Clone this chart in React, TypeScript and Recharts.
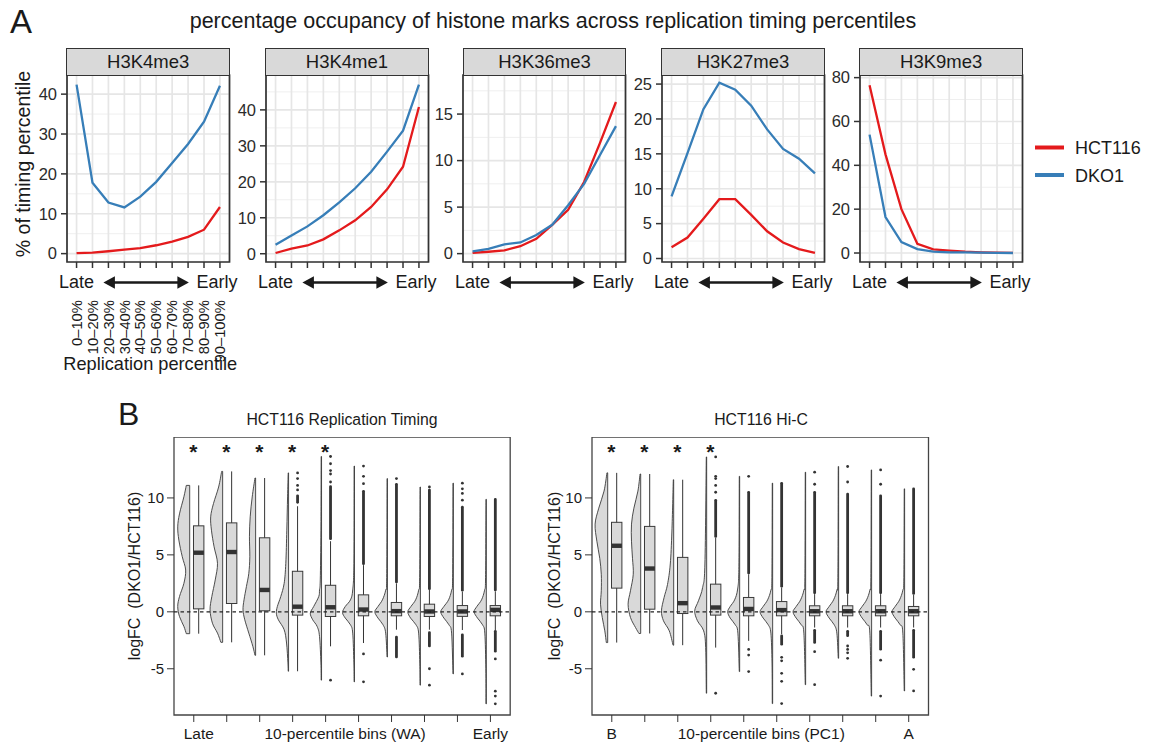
import React from 'react';
import {
  LineChart, Line, XAxis, YAxis, CartesianGrid, ReferenceArea, ReferenceLine,
  ComposedChart, Bar,
} from 'recharts';

const FONT = '"Liberation Sans", Arial, Helvetica, sans-serif';
const RED = '#e41a1c';
const BLUE = '#377eb8';
const INK = '#1a1a1a';

// ---------------- Panel A data ----------------
const percentileBins = [1, 2, 3, 4, 5, 6, 7, 8, 9, 10];
const percentileLabels = ['0–10%', '10–20%', '20–30%', '30–40%', '40–50%', '50–60%', '60–70%', '70–80%', '80–90%', '90–100%'];
const histoneMarks = ['H3K4me3', 'H3K4me1', 'H3K36me3', 'H3K27me3', 'H3K9me3'];
const seriesNames = ['HCT116', 'DKO1'];

const h3k4me3HCT116 = [0.15, 0.25, 0.6, 1.0, 1.4, 2.1, 3.0, 4.2, 6.0, 11.7];
const h3k4me3DKO1 = [42.4, 17.8, 12.8, 11.6, 14.3, 18.0, 22.7, 27.5, 33.1, 42.1];
const h3k4me1HCT116 = [0.2, 1.4, 2.3, 4.0, 6.5, 9.3, 13.0, 17.9, 24.2, 40.8];
const h3k4me1DKO1 = [2.5, 5.1, 7.6, 10.7, 14.3, 18.2, 22.8, 28.4, 34.2, 47.0];
const h3k36me3HCT116 = [0.07, 0.2, 0.35, 0.8, 1.6, 3.1, 4.7, 7.7, 11.9, 16.3];
const h3k36me3DKO1 = [0.25, 0.5, 1.0, 1.2, 2.0, 3.1, 5.2, 7.5, 10.6, 13.7];
const h3k27me3HCT116 = [1.6, 3.0, 5.7, 8.5, 8.5, 6.25, 3.9, 2.3, 1.35, 0.8];
const h3k27me3DKO1 = [8.9, 15.1, 21.4, 25.2, 24.2, 21.9, 18.5, 15.7, 14.3, 12.2];
const h3k9me3HCT116 = [76.5, 45.0, 20.0, 4.2, 1.7, 1.1, 0.6, 0.3, 0.15, 0.05];
const h3k9me3DKO1 = [54.0, 16.4, 5.0, 1.8, 0.6, 0.3, 0.3, 0.2, 0.1, 0.0];

const hctByMark = [h3k4me3HCT116, h3k4me1HCT116, h3k36me3HCT116, h3k27me3HCT116, h3k9me3HCT116];
const dkoByMark = [h3k4me3DKO1, h3k4me1DKO1, h3k36me3DKO1, h3k27me3DKO1, h3k9me3DKO1];

const facetYDomains = [[-2.1, 44.8], [-2.3, 49.7], [-0.9, 19.2], [-0.5, 26.3], [-4.1, 81.2]];
const facetYTicks = [[0, 10, 20, 30, 40], [0, 10, 20, 30, 40], [0, 5, 10, 15], [0, 5, 10, 15, 20, 25], [0, 20, 40, 60, 80]];
const facetYMinorTicks = [[5, 15, 25, 35], [5, 15, 25, 35, 45], [2.5, 7.5, 12.5, 17.5], [2.5, 7.5, 12.5, 17.5, 22.5], [10, 30, 50, 70]];

// ---------------- Panel B data ----------------
const binPositions = [1, 2, 3, 4, 5, 6, 7, 8, 9, 10];

// HCT116 Replication Timing (WA bins)
const waMin = [-1.92, -2.68, -3.82, -5.22, -6.0, -6.15, -3.97, -6.44, -5.45, -8.08];
const waMax = [11.1, 12.33, 11.75, 12.2, 13.64, 12.8, 11.7, 10.96, 11.3, 9.88];
const waQ1 = [0.26, 0.73, 0.09, -0.29, -0.41, -0.35, -0.35, -0.41, -0.4, -0.35];
const waMedian = [5.19, 5.25, 1.92, 0.45, 0.4, 0.2, 0.06, 0.03, 0.03, 0.17];
const waQ3 = [7.55, 7.81, 6.5, 3.56, 2.33, 1.49, 0.82, 0.67, 0.55, 0.55];
const waWhiskerLo = [-1.92, -2.68, -3.82, -5.22, -3.03, -2.74, -1.57, -1.57, -1.6, -1.6];
const waWhiskerHi = [11.1, 12.33, 11.75, 9.27, 6.2, 4.1, 2.5, 1.92, 1.78, 1.8];
const waDenseHi = [null, null, null, [9.5, 10.2], [6.3, 11.0], [4.1, 10.6], [2.5, 11.2], [1.92, 10.7], [1.78, 9.2], [1.8, 9.88]];
const waDenseLo = [null, null, null, null, null, null, [-3.97, -2.1], [-3.0, -1.7], [-3.9, -1.9], [-3.47, -1.6]];
const waOutliers = [[], [], [], [10.7, 11.1, 11.7, 12.2], [11.4, 12.1, 12.4, 13.0, 13.64, -6.0], [11.25, 11.9, 12.8, -3.7, -6.15], [11.7], [10.96, -5.0, -6.44], [9.8, 10.4, 10.8, 11.3, -5.45], [-4.14, -6.97, -7.4, -8.08]];
const waStarred = [true, true, true, true, true, false, false, false, false, false];
const waViolins = [
  [[11.1, 0.27], [10.1, 0.46], [8.6, 0.81], [7.46, 0.95], [6.3, 0.86], [4.84, 0.59], [3.67, 0.32], [2.5, 0.46], [1.34, 0.81], [0.47, 0.95], [-0.41, 0.81], [-1.28, 0.46], [-1.92, 0.27]],
  [[12.33, 0.08], [10.96, 0.32], [9.5, 0.73], [8.34, 0.95], [7.17, 0.89], [5.71, 0.68], [4.26, 0.41], [2.8, 0.59], [1.34, 0.86], [0.17, 1.0], [-1.0, 0.81], [-1.87, 0.41], [-2.68, 0.14]],
  [[11.75, 0.05], [10.09, 0.27], [8.34, 0.43], [6.59, 0.49], [4.84, 0.46], [3.38, 0.54], [2.22, 0.73], [1.05, 0.92], [0.17, 1.0], [-0.7, 0.86], [-1.87, 0.54], [-3.03, 0.22], [-3.82, 0.05]],
  [[12.2, 0.03], [10.09, 0.08], [7.17, 0.14], [4.26, 0.22], [2.5, 0.35], [1.34, 0.62], [0.47, 0.89], [-0.12, 0.97], [-0.7, 0.81], [-1.57, 0.35], [-2.74, 0.16], [-4.49, 0.05], [-5.22, 0.03]],
  [[13.64, 0.03], [7.17, 0.05], [2.8, 0.1], [1.92, 0.16], [1.34, 0.22], [0.47, 0.62], [-0.12, 0.89], [-0.7, 0.7], [-1.28, 0.35], [-2.16, 0.16], [-4.49, 0.05], [-6.0, 0.03]],
  [[12.8, 0.03], [4.26, 0.05], [1.92, 0.14], [1.05, 0.32], [0.47, 0.73], [-0.06, 0.95], [-0.55, 0.73], [-1.14, 0.32], [-1.87, 0.14], [-4.49, 0.05], [-6.15, 0.03]],
  [[11.7, 0.03], [3.0, 0.06], [1.9, 0.14], [1.05, 0.4], [0.47, 0.75], [0.0, 1.0], [-0.55, 0.75], [-1.14, 0.35], [-1.87, 0.14], [-3.97, 0.03]],
  [[10.96, 0.03], [3.0, 0.06], [1.9, 0.14], [1.05, 0.38], [0.47, 0.75], [0.0, 1.0], [-0.55, 0.78], [-1.14, 0.35], [-1.87, 0.14], [-4.5, 0.05], [-6.44, 0.03]],
  [[11.3, 0.03], [3.0, 0.06], [1.9, 0.14], [1.05, 0.38], [0.47, 0.75], [0.0, 1.0], [-0.55, 0.75], [-1.14, 0.35], [-1.87, 0.14], [-5.45, 0.03]],
  [[9.88, 0.03], [3.0, 0.06], [1.9, 0.14], [1.05, 0.38], [0.47, 0.75], [0.0, 0.97], [-0.55, 0.7], [-1.14, 0.3], [-1.87, 0.12], [-5.0, 0.04], [-8.08, 0.03]],
];

// HCT116 Hi-C (PC1 bins)
const pcMin = [-2.7, -1.9, -2.93, -7.15, -5.25, -8.06, -6.4, -4.08, -7.4, -6.95];
const pcMax = [12.2, 12.1, 11.6, 13.6, 11.9, 11.3, 12.26, 12.76, 12.46, 10.8];
const pcQ1 = [2.08, 0.23, -0.15, -0.29, -0.35, -0.35, -0.35, -0.35, -0.35, -0.35];
const pcMedian = [5.8, 3.8, 0.76, 0.38, 0.25, 0.15, 0.05, 0.05, 0.05, 0.05];
const pcQ3 = [7.86, 7.5, 4.78, 2.43, 1.26, 0.9, 0.53, 0.53, 0.53, 0.47];
const pcWhiskerLo = [-2.7, -1.9, -2.93, -3.14, -2.55, -1.96, -1.38, -1.38, -1.38, -1.38];
const pcWhiskerHi = [12.2, 12.1, 11.6, 6.5, 3.3, 2.14, 1.55, 1.55, 1.55, 1.5];
const pcDenseHi = [null, null, null, [6.5, 9.8], [3.3, 10.5], [2.14, 11.3], [1.55, 10.5], [1.55, 10.35], [1.55, 10.2], [1.5, 10.8]];
const pcDenseLo = [null, null, null, null, null, [-2.85, -2.0], [-2.7, -1.5], [-2.1, -1.6], [-3.3, -1.6], [-4.0, -1.5]];
const pcOutliers = [[], [], [], [10.5, 11.1, 11.7, 11.9, 13.6, -7.15], [11.9, -3.3, -3.8, -5.25], [-4.0, -4.3, -5.4, -6.1, -8.06], [11.2, 12.26, -3.5, -6.4], [11.4, 12.76, -3.0, -3.3, -3.6, -4.08], [11.2, 12.46, -4.25, -7.4], [-5.05, -6.95]];
const pcStarred = [true, true, true, true, false, false, false, false, false, false];
const pcViolins = [
  [[12.2, 0.06], [10.6, 0.29], [9.1, 0.71], [7.7, 1.0], [6.2, 0.86], [4.7, 0.63], [3.3, 0.51], [1.85, 0.51], [0.67, 0.57], [-0.5, 0.43], [-1.67, 0.23], [-2.7, 0.11]],
  [[12.1, 0.05], [10.6, 0.22], [9.1, 0.54], [7.7, 0.73], [6.2, 0.73], [4.7, 0.65], [3.3, 0.59], [1.85, 0.81], [0.67, 1.0], [-0.5, 0.81], [-1.38, 0.41], [-1.9, 0.14]],
  [[11.6, 0.03], [7.1, 0.14], [4.2, 0.27], [2.4, 0.49], [1.26, 0.76], [0.09, 0.97], [-0.79, 0.81], [-1.67, 0.35], [-2.93, 0.05]],
  [[13.6, 0.03], [4.2, 0.14], [2.14, 0.32], [0.97, 0.65], [0.09, 0.95], [-0.79, 0.73], [-1.67, 0.24], [-3.14, 0.08], [-7.15, 0.03]],
  [[11.9, 0.03], [4.0, 0.06], [2.0, 0.16], [1.05, 0.4], [0.47, 0.75], [0.0, 0.95], [-0.55, 0.75], [-1.14, 0.35], [-1.87, 0.14], [-5.25, 0.03]],
  [[11.3, 0.03], [3.0, 0.06], [1.9, 0.14], [1.05, 0.4], [0.47, 0.75], [0.0, 1.0], [-0.55, 0.75], [-1.14, 0.35], [-1.87, 0.14], [-4.5, 0.05], [-8.06, 0.03]],
  [[12.26, 0.03], [3.0, 0.06], [1.9, 0.14], [1.05, 0.4], [0.47, 0.75], [0.0, 1.0], [-0.55, 0.75], [-1.14, 0.35], [-1.87, 0.14], [-6.4, 0.03]],
  [[12.76, 0.03], [3.0, 0.06], [1.9, 0.14], [1.05, 0.4], [0.47, 0.75], [0.0, 1.0], [-0.55, 0.75], [-1.14, 0.35], [-1.87, 0.14], [-4.08, 0.03]],
  [[12.46, 0.03], [3.0, 0.06], [1.9, 0.14], [1.05, 0.4], [0.47, 0.75], [0.0, 1.0], [-0.55, 0.75], [-1.14, 0.35], [-1.87, 0.14], [-7.4, 0.03]],
  [[10.8, 0.03], [3.0, 0.06], [1.9, 0.14], [1.05, 0.4], [0.47, 0.75], [0.0, 1.0], [-0.55, 0.75], [-1.14, 0.35], [-1.87, 0.14], [-6.95, 0.03]],
];

const bYDomain = [-9.06, 15.35];
const bYTicks = [-5, 0, 5, 10];
const starValue = 14.4;

// ---------------- Panel A ----------------
const FACET_LEFTS = [67, 265.7, 463.3, 661.7, 860];
const FACET_W = 162.5;
const FACET_TOP = 75;
const FACET_H = 187;
const FACET_TM = 12;

function ArrowLabel(props: any) {
  const vb = props.viewBox || {};
  const x = vb.x || 0;
  const y = vb.y || 0;
  const width = vb.width || 0;
  const x1 = x + width * 0.224;
  const x2 = x + width * 0.75;
  const cy = y + 20.5;
  const hl = 11.5, hh = 6.3, sw = 1.35;
  const d = `M${x1},${cy} L${x1 + hl},${cy - hh} L${x1 + hl},${cy - sw} L${x2 - hl},${cy - sw} L${x2 - hl},${cy - hh} L${x2},${cy} L${x2 - hl},${cy + hh} L${x2 - hl},${cy + sw} L${x1 + hl},${cy + sw} L${x1 + hl},${cy + hh} Z`;
  return (
    <g>
      <path d={d} fill={INK} />
      {props.showTitle ? (
        <text x={x + width / 2 + 2} y={y + 108} textAnchor="middle" fontSize={18.2} fontFamily={FONT} fill={INK}>
          Replication percentile
        </text>
      ) : null}
    </g>
  );
}

function FacetTick(props: any) {
  const { x, y, payload, showPercentiles } = props;
  const v = payload ? payload.value : 0;
  return (
    <g>
      {v === 1 ? (
        <text x={x} y={y + 20} textAnchor="middle" fontSize={18} fontFamily={FONT} fill={INK}>Late</text>
      ) : null}
      {v === 10 ? (
        <text x={x - 3} y={y + 20} textAnchor="middle" fontSize={18} fontFamily={FONT} fill={INK}>Early</text>
      ) : null}
      {showPercentiles ? (
        <g transform={`translate(${x + 5.2},${y + 32})`}>
          <g transform="rotate(-90)">
            <text x={0} y={0} textAnchor="end" fontSize={14.8} fontFamily={FONT} fill={INK}>
              {percentileLabels[v - 1]}
            </text>
          </g>
        </g>
      ) : null}
    </g>
  );
}

function Facet({ idx }: { idx: number }) {
  const YW = 50;
  const RM = 26;
  const XH = idx === 0 ? 115 : 36;
  const dom = facetYDomains[idx];
  const data = percentileBins.map((p, i) => ({
    bin: p,
    HCT116: hctByMark[idx][i],
    DKO1: dkoByMark[idx][i],
  }));
  return (
    <>
      <div style={{ position: 'absolute', left: FACET_LEFTS[idx] - YW, top: FACET_TOP - FACET_TM }}>
        <LineChart width={YW + FACET_W + RM} height={FACET_TM + FACET_H + XH} data={data} margin={{ top: FACET_TM, right: RM, bottom: 0, left: 0 }}>
          <CartesianGrid horizontalValues={facetYMinorTicks[idx]} vertical={false} stroke="#efefef" strokeWidth={1} />
          <CartesianGrid stroke="#e6e6e6" strokeWidth={1.7} />
          <XAxis
            dataKey="bin"
            type="number"
            domain={[0.4, 10.6]}
            ticks={percentileBins}
            interval={0}
            allowDataOverflow
            axisLine={false}
            tickSize={6}
            tickMargin={0}
            tickLine={{ stroke: '#333', strokeWidth: 1.5 }}
            tick={<FacetTick showPercentiles={idx === 0} />}
            height={XH}
            label={<ArrowLabel showTitle={idx === 0} />}
          />
          <YAxis
            type="number"
            domain={dom}
            ticks={facetYTicks[idx]}
            interval={0}
            allowDataOverflow
            width={YW}
            axisLine={false}
            tickSize={6}
            tickMargin={4}
            tickLine={{ stroke: '#333', strokeWidth: 1.5 }}
            tick={{ fontSize: 16.5, fill: '#2b2b2b', fontFamily: FONT }}
          />
          <Line type="linear" dataKey="HCT116" stroke={RED} strokeWidth={2.3} dot={false} isAnimationActive={false} />
          <Line type="linear" dataKey="DKO1" stroke={BLUE} strokeWidth={2.3} dot={false} isAnimationActive={false} />
          <ReferenceArea x1={0.4} x2={10.6} y1={dom[0]} y2={dom[1]} fill="none" fillOpacity={0} stroke="#333" strokeWidth={1.7} ifOverflow="visible" />
        </LineChart>
      </div>
      <div
        style={{
          position: 'absolute',
          left: FACET_LEFTS[idx] - 0.6,
          top: 47.5,
          width: FACET_W + 1.2,
          height: 28.5,
          boxSizing: 'border-box',
          border: '1.7px solid #333',
          background: '#d9d9d9',
          fontFamily: FONT,
          fontSize: 18.5,
          color: INK,
          textAlign: 'center',
          lineHeight: '25px',
        }}
      >
        {histoneMarks[idx]}
      </div>
    </>
  );
}

// ---------------- Panel B ----------------
type BinSeries = {
  q1: number[]; median: number[]; q3: number[];
  whiskerLo: number[]; whiskerHi: number[];
  denseHi: (number[] | null)[]; denseLo: (number[] | null)[];
  outliers: number[][]; violins: number[][][]; starred: boolean[];
};

function smoothPath(pts: number[][]) {
  let d = '';
  for (let i = 0; i < pts.length - 1; i++) {
    const p0 = pts[Math.max(0, i - 1)];
    const p1 = pts[i];
    const p2 = pts[i + 1];
    const p3 = pts[Math.min(pts.length - 1, i + 2)];
    const c1x = p1[0] + (p2[0] - p0[0]) / 6;
    const c1y = p1[1] + (p2[1] - p0[1]) / 6;
    const c2x = p2[0] - (p3[0] - p1[0]) / 6;
    const c2y = p2[1] - (p3[1] - p1[1]) / 6;
    d += ` C${c1x},${c1y} ${c2x},${c2y} ${p2[0]},${p2[1]}`;
  }
  return d;
}

function makeBinShape(s: BinSeries) {
  return (props: any) => {
    const { x, y, width, height, payload } = props;
    if (!payload || x == null || y == null) return <g />;
    const i = payload.idx;
    const lo = payload.range[0];
    const hi = payload.range[1];
    const top = Math.min(y, y + height);
    const bot = Math.max(y, y + height);
    const py = (v: number) => top + ((hi - v) / (hi - lo)) * (bot - top);
    const cx = x + width / 2;
    const flat = cx - 3.6;
    const maxW = 12.6;
    const wx = cx + 5.4;
    const bx0 = cx + 0.2;
    const bw = 10.4;
    const vpts = s.violins[i].map((p) => [flat - p[1] * maxW, py(p[0])]);
    const vd = `M${flat},${vpts[0][1]} L${vpts[0][0]},${vpts[0][1]}` + smoothPath(vpts) + ` L${flat},${vpts[vpts.length - 1][1]} Z`;
    const dh = s.denseHi[i];
    const dl = s.denseLo[i];
    return (
      <g>
        <path d={vd} fill="#d9d9d9" stroke="#3a3a3a" strokeWidth={0.9} />
        <line x1={wx} x2={wx} y1={py(s.whiskerHi[i])} y2={py(s.whiskerLo[i])} stroke="#333" strokeWidth={1} />
        {dh ? <rect x={wx - 1.4} width={2.8} y={py(dh[1]) - 1.2} height={py(dh[0]) - py(dh[1]) + 1.2} rx={1.3} fill="#333" /> : null}
        {dl ? <rect x={wx - 1.4} width={2.8} y={py(dl[1])} height={py(dl[0]) - py(dl[1]) + 1.2} rx={1.3} fill="#333" /> : null}
        {s.outliers[i].map((v, k) => (
          <circle key={k} cx={wx} cy={py(v)} r={1.4} fill="#333" />
        ))}
        <rect x={bx0} width={bw} y={py(s.q3[i])} height={py(s.q1[i]) - py(s.q3[i])} fill="#d9d9d9" stroke="#3a3a3a" strokeWidth={1} />
        <rect x={bx0} width={bw} y={py(s.median[i]) - 2.2} height={4.4} fill="#333" />
        {s.starred[i] ? (
          <text x={cx} y={py(starValue) + 11.5} textAnchor="middle" fontSize={21} fontWeight="bold" fontFamily={FONT} fill={INK}>*</text>
        ) : null}
      </g>
    );
  };
}

function BTick(props: any) {
  const { x, y, payload, first, last, firstShift } = props;
  const v = payload ? payload.value : 0;
  if (v === 1) return <text x={x + firstShift} y={y + 17} textAnchor="middle" fontSize={15.5} fontFamily={FONT} fill={INK}>{first}</text>;
  if (v === 10) return <text x={x} y={y + 17} textAnchor="middle" fontSize={15.5} fontFamily={FONT} fill={INK}>{last}</text>;
  return <g />;
}

function MidLabel(props: any) {
  const vb = props.viewBox || {};
  return (
    <text x={(vb.x || 0) + (vb.width || 0) / 2 + props.shift} y={(vb.y || 0) + 24} textAnchor="middle" fontSize={15.5} fontFamily={FONT} fill={INK}>
      {props.text}
    </text>
  );
}

function BoxViolinChart(props: {
  left: number; top: number; plotW: number; plotH: number;
  min: number[]; max: number[]; series: BinSeries;
  firstLabel: string; lastLabel: string; midLabel: string; firstShift: number; midShift: number;
}) {
  const YW = 60;
  const RM = 14;
  const XH = 34;
  const data = binPositions.map((p, i) => ({ pos: p, idx: i, range: [props.min[i], props.max[i]] }));
  const shape = makeBinShape(props.series);
  return (
    <div style={{ position: 'absolute', left: props.left - YW, top: props.top }}>
      <ComposedChart width={YW + props.plotW + RM} height={props.plotH + XH} data={data} margin={{ top: 0, right: RM, bottom: 0, left: 0 }}>
        <XAxis
          dataKey="pos"
          type="number"
          domain={[0.4, 10.6]}
          ticks={binPositions}
          interval={0}
          allowDataOverflow
          axisLine={false}
          tickSize={7}
          tickMargin={0}
          tickLine={{ stroke: '#333', strokeWidth: 1 }}
          tick={<BTick first={props.firstLabel} last={props.lastLabel} firstShift={props.firstShift} />}
          height={XH}
          label={<MidLabel text={props.midLabel} shift={props.midShift} />}
        />
        <YAxis
          type="number"
          domain={bYDomain}
          ticks={bYTicks}
          interval={0}
          allowDataOverflow
          width={YW}
          axisLine={false}
          tickSize={7}
          tickMargin={3}
          tickLine={{ stroke: '#333', strokeWidth: 1 }}
          tick={{ fontSize: 15, fill: INK, fontFamily: FONT }}
        />
        <Bar dataKey="range" barSize={10} shape={shape} isAnimationActive={false} />
        <ReferenceLine y={0} stroke="#222" strokeWidth={1.3} strokeDasharray="3.5 3" ifOverflow="visible" />
        <ReferenceArea x1={0.4} x2={10.6} y1={bYDomain[0]} y2={bYDomain[1]} fill="none" fillOpacity={0} stroke="#444" strokeWidth={1.3} ifOverflow="visible" />
      </ComposedChart>
    </div>
  );
}

const waSeries: BinSeries = {
  q1: waQ1, median: waMedian, q3: waQ3, whiskerLo: waWhiskerLo, whiskerHi: waWhiskerHi,
  denseHi: waDenseHi, denseLo: waDenseLo, outliers: waOutliers, violins: waViolins, starred: waStarred,
};
const pcSeries: BinSeries = {
  q1: pcQ1, median: pcMedian, q3: pcQ3, whiskerLo: pcWhiskerLo, whiskerHi: pcWhiskerHi,
  denseHi: pcDenseHi, denseLo: pcDenseLo, outliers: pcOutliers, violins: pcViolins, starred: pcStarred,
};

export default function App() {
  return (
    <div style={{ position: 'absolute', left: 0, top: 0, width: 1157, height: 749, background: '#fff', overflow: 'hidden', fontFamily: FONT }}>
      <svg width={1157} height={749} style={{ position: 'absolute', left: 0, top: 0 }}>
        <text x={10} y={33} fontSize={33} fontFamily={FONT} fill={INK}>A</text>
        <text x={553} y={28} textAnchor="middle" fontSize={21.5} fontFamily={FONT} fill={INK}>
          percentage occupancy of histone marks across replication timing percentiles
        </text>
        <text transform="translate(30,164) rotate(-90)" textAnchor="middle" fontSize={19.5} fontFamily={FONT} fill={INK}>
          % of timing percentile
        </text>
        <line x1={1035} x2={1064} y1={147.5} y2={147.5} stroke={RED} strokeWidth={4} />
        <text x={1075} y={154} fontSize={18} fontFamily={FONT} fill={INK}>{seriesNames[0]}</text>
        <line x1={1035} x2={1064} y1={175} y2={175} stroke={BLUE} strokeWidth={4} />
        <text x={1075} y={181.5} fontSize={18} fontFamily={FONT} fill={INK}>{seriesNames[1]}</text>

        <text x={118} y={425} fontSize={32} fontFamily={FONT} fill={INK}>B</text>
        <text x={342} y={425} textAnchor="middle" fontSize={15.8} fontFamily={FONT} fill={INK}>HCT116 Replication Timing</text>
        <text x={761} y={425} textAnchor="middle" fontSize={15.8} fontFamily={FONT} fill={INK}>HCT116 Hi-C</text>
        <text transform="translate(140,576) rotate(-90)" textAnchor="middle" fontSize={16} fontFamily={FONT} fill={INK} style={{ whiteSpace: 'pre' }}>
          {'logFC  (DKO1/HCT116)'}
        </text>
        <text transform="translate(560,576) rotate(-90)" textAnchor="middle" fontSize={16} fontFamily={FONT} fill={INK} style={{ whiteSpace: 'pre' }}>
          {'logFC  (DKO1/HCT116)'}
        </text>
      </svg>

      {[0, 1, 2, 3, 4].map((i) => (
        <Facet key={i} idx={i} />
      ))}

      <BoxViolinChart
        left={174.3} top={437} plotW={336.2} plotH={278}
        min={waMin} max={waMax} series={waSeries}
        firstLabel="Late" lastLabel="Early" midLabel="10-percentile bins (WA)" firstShift={5} midShift={3}
      />
      <BoxViolinChart
        left={592.3} top={437} plotW={336.5} plotH={278}
        min={pcMin} max={pcMax} series={pcSeries}
        firstLabel="B" lastLabel="A" midLabel="10-percentile bins (PC1)" firstShift={0} midShift={1}
      />
    </div>
  );
}
